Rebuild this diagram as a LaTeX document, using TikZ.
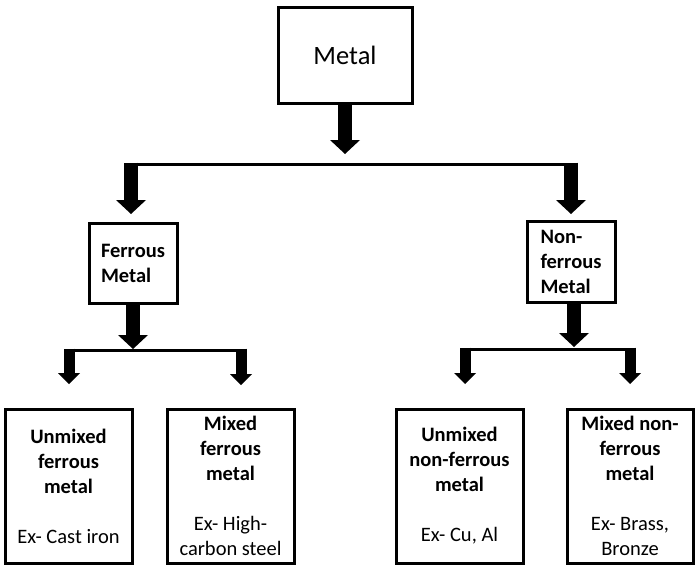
\documentclass[tikz,border=0pt]{standalone}
\usepackage{fontspec}
\setmainfont{Carlito}
\usetikzlibrary{arrows.meta}
\begin{document}
\begin{tikzpicture}[x=1pt,y=-1pt,
  box/.style={draw, line width=3pt, inner sep=0pt, align=center},
  midbox/.style={box, minimum width=88pt, minimum height=80pt, align=left,
    font=\fontsize{20.5}{25}\selectfont\bfseries},
  leafbox/.style={box, minimum width=127pt, minimum height=154pt,
    font=\fontsize{20.5}{25}\selectfont},
  bigarrow/.style={line width=14pt, -{Triangle[width=30pt,length=14pt,line width=0pt]}},
  smallarrow/.style={line width=11pt, -{Triangle[width=22pt,length=11pt,line width=0pt]}},
  bar/.style={line width=3pt}]
\useasboundingbox (0,0) rectangle (700,575);
% nodes
\node[box, minimum width=134pt, minimum height=95pt, font=\fontsize{26.5}{30}\selectfont] (metal) at (345,55.5) {Metal};
\node[midbox] (ferrous) at (133,263) {Ferrous\\Metal};
\node[midbox, minimum height=81pt] (nonferrous) at (571,261.5) {Non-\\ferrous\\Metal};
\node[leafbox] (unf) at (68.5,486) {\textbf{Unmixed}\\\textbf{ferrous}\\\textbf{metal}\\[25pt]Ex- Cast iron};
\node[leafbox] (mf) at (230.5,486) {\textbf{Mixed}\\\textbf{ferrous}\\\textbf{metal}\\[25pt]Ex- High-\\carbon steel};
\node[leafbox] (unnf) at (459.5,486) {\textbf{Unmixed}\\\textbf{non-ferrous}\\\textbf{metal}\\[25pt]Ex- Cu, Al};
\node[leafbox, minimum width=126pt] (mnf) at (630,486) {\textbf{Mixed non-}\\\textbf{ferrous}\\\textbf{metal}\\[25pt]Ex- Brass,\\Bronze};
% junction coordinates
\coordinate (mtip) at (345,154);
\coordinate (barL) at (127,164);
\coordinate (barR) at (578,164);
\coordinate (fTop) at (131,162.5);
\coordinate (fTip) at (131,214);
\coordinate (nTop) at (571,162.5);
\coordinate (nTip) at (571,214);
\coordinate (fdTip) at (133,349);
\coordinate (ndTip) at (574,347);
\coordinate (sbL1) at (64,350);
\coordinate (sbR1) at (247,350);
\coordinate (sbL2) at (460,349);
\coordinate (sbR2) at (636,349);
\coordinate (a1s) at (69,348.5);  \coordinate (a1t) at (69,384);
\coordinate (a2s) at (241,348.5); \coordinate (a2t) at (241,385);
\coordinate (a3s) at (465,347.5); \coordinate (a3t) at (465,384);
\coordinate (a4s) at (630,347.5); \coordinate (a4t) at (630,384);
% connectors
\draw[bigarrow] (metal.south) -- (mtip);
\draw[bar] (barL) -- (barR);
\draw[bigarrow] (fTop) -- (fTip);
\draw[bigarrow] (nTop) -- (nTip);
\draw[bigarrow] (ferrous.south) -- (fdTip);
\draw[bigarrow] ([xshift=3pt]nonferrous.south) -- (ndTip);
\draw[bar] (sbL1) -- (sbR1);
\draw[bar] (sbL2) -- (sbR2);
\draw[smallarrow] (a1s) -- (a1t);
\draw[smallarrow] (a2s) -- (a2t);
\draw[smallarrow] (a3s) -- (a3t);
\draw[smallarrow] (a4s) -- (a4t);
\end{tikzpicture}
\end{document}
